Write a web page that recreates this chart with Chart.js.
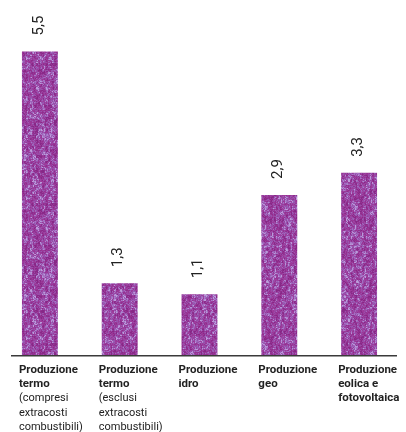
<!DOCTYPE html>
<html>
<head>
<meta charset="utf-8">
<script src="https://cdn.jsdelivr.net/npm/chart.js@4/dist/chart.umd.min.js"></script>
<style>
  html, body { margin: 0; padding: 0; background: #ffffff; }
  #wrap { width: 406px; height: 432px; }
</style>
</head>
<body>
<div id="wrap"><canvas id="chart" width="406" height="432"></canvas></div>
<script>
// Category captions: bold heading lines and regular note lines
const titleLines = [
  ["Produzione", "termo"],
  ["Produzione", "termo"],
  ["Produzione", "idro"],
  ["Produzione", "geo"],
  ["Produzione", "eolica e", "fotovoltaica"]
];
const noteLines = [
  ["(compresi", "extracosti", "combustibili)"],
  ["(esclusi", "extracosti", "combustibili)"],
  [],
  [],
  []
];
const values = [5.5, 1.3, 1.1, 2.9, 3.3];
const valueLabels = ["5,5", "1,3", "1,1", "2,9", "3,3"];

const categories = titleLines.map((t, i) => t.concat(noteLines[i]).join(" "));

// Grainy purple fill for the bars
function makeGrainPattern() {
  const w = 90, h = 140;
  const raw = document.createElement("canvas");
  raw.width = w; raw.height = h;
  const rctx = raw.getContext("2d");
  const img = rctx.createImageData(w, h);
  const hash = (x, y) => {
    const s = Math.sin(x * 127.1 + y * 311.7) * 43758.5453;
    return s - Math.floor(s);
  };
  // colour ramp: deep magenta -> magenta -> violet -> lavender
  const stops = [
    [0.00, [135, 40, 135]],
    [0.38, [158, 58, 155]],
    [0.65, [150, 85, 175]],
    [0.85, [168, 120, 200]],
    [1.00, [188, 155, 218]]
  ];
  const ramp = n => {
    for (let k = 1; k < stops.length; k++) {
      if (n <= stops[k][0]) {
        const [p0, c0] = stops[k - 1], [p1, c1] = stops[k];
        const t = (n - p0) / (p1 - p0);
        return c0.map((v, j) => v + (c1[j] - v) * t);
      }
    }
    return stops[stops.length - 1][1];
  };
  for (let y = 0; y < h; y++) {
    for (let x = 0; x < w; x++) {
      const n = 0.4 * hash(x, y)
              + 0.35 * hash(Math.floor(x / 2) + 17, Math.floor(y / 3) + 5)
              + 0.25 * hash(Math.floor(x / 3) + 41, Math.floor(y / 7) + 29);
      const c = ramp(Math.min(1, Math.max(0, (n - 0.2) / 0.62)));
      const i = (y * w + x) * 4;
      img.data[i] = c[0]; img.data[i + 1] = c[1]; img.data[i + 2] = c[2]; img.data[i + 3] = 255;
    }
  }
  rctx.putImageData(img, 0, 0);
  const soft = document.createElement("canvas");
  soft.width = w; soft.height = h;
  const sctx = soft.getContext("2d");
  sctx.filter = "blur(0.7px)";
  sctx.drawImage(raw, 0, 0);
  sctx.filter = "none";
  return sctx.createPattern(soft, "repeat");
}

const TEXT = "#222222";
const FONT = "Roboto, 'Liberation Sans', sans-serif";

const annotations = {
  id: "annotations",
  afterDatasetsDraw(chart) {
    const ctx = chart.ctx;
    const area = chart.chartArea;
    const meta = chart.getDatasetMeta(0);
    ctx.save();

    // baseline
    ctx.strokeStyle = "#3a3a3a";
    ctx.lineWidth = 1.4;
    ctx.beginPath();
    ctx.moveTo(area.left + 11, area.bottom + 0.7);
    ctx.lineTo(area.right - 2, area.bottom + 0.7);
    ctx.stroke();

    // rotated value labels above the bars
    ctx.fillStyle = TEXT;
    ctx.font = "15px " + FONT;
    ctx.textAlign = "left";
    ctx.textBaseline = "middle";
    meta.data.forEach((bar, i) => {
      ctx.save();
      ctx.translate(bar.x - 1, bar.y - 16);
      ctx.rotate(-Math.PI / 2);
      ctx.fillText(valueLabels[i], 0, 0);
      ctx.restore();
    });

    // category captions under the baseline
    ctx.textBaseline = "alphabetic";
    const lineH = 14.4;
    meta.data.forEach((bar, i) => {
      const x = bar.x - bar.width / 2 - 3;
      let y = area.bottom + 17.5;
      ctx.font = "bold 11.5px " + FONT;
      titleLines[i].forEach(t => { ctx.fillText(t, x, y); y += lineH; });
      ctx.font = "11px " + FONT;
      noteLines[i].forEach(t => { ctx.fillText(t, x, y); y += lineH; });
    });
    ctx.restore();
  }
};

new Chart(document.getElementById("chart"), {
  type: "bar",
  data: {
    labels: categories,
    datasets: [{
      data: values,
      backgroundColor: makeGrainPattern(),
      borderWidth: 0,
      barPercentage: 0.45,
      categoryPercentage: 1.0
    }]
  },
  options: {
    responsive: false,
    animation: false,
    devicePixelRatio: 1,
    layout: { padding: { top: 10, bottom: 77, left: -1, right: 7 } },
    scales: {
      x: { display: false },
      y: { display: false, min: 0, max: 6.25 }
    },
    plugins: {
      legend: { display: false },
      tooltip: { enabled: false }
    }
  },
  plugins: [annotations]
});
</script>
</body>
</html>
